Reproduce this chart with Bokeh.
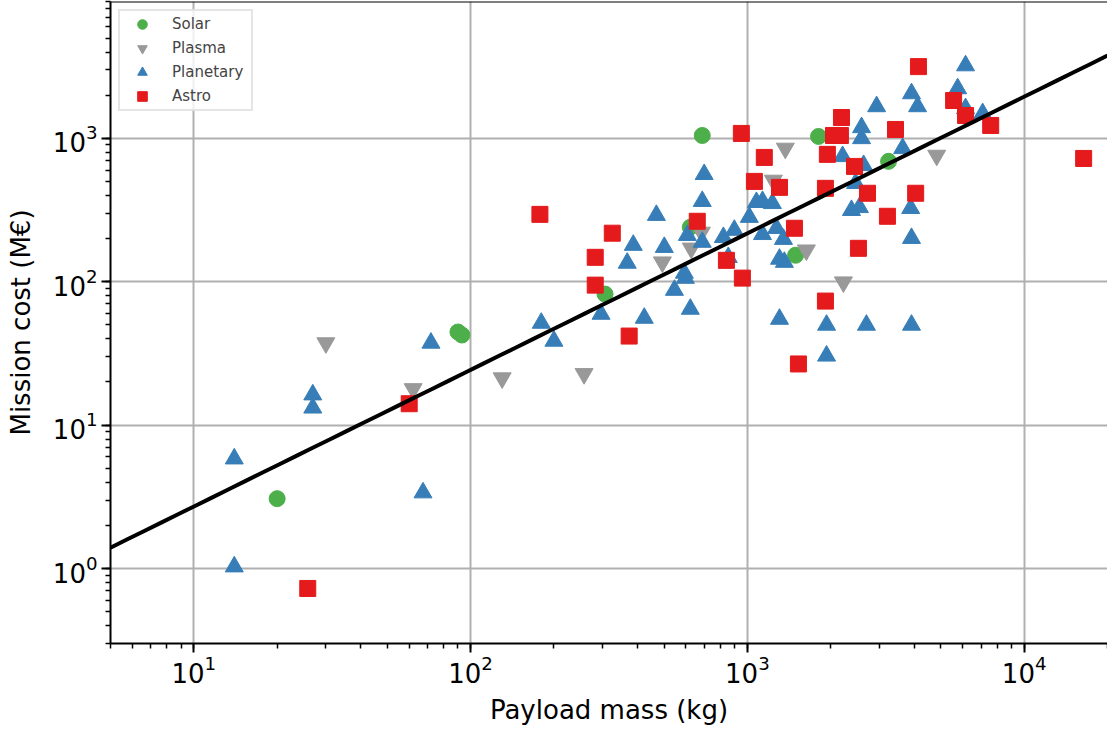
import numpy as np
from bokeh.plotting import figure
from bokeh.models import Span
from bokeh.embed import file_html
from bokeh.resources import INLINE

# ---- data ----
solar_mass = [20, 90, 93, 306, 622, 687, 1807, 1493, 3236]
solar_cost = [3.07, 44.6, 42.5, 82, 240, 1047, 1031, 153, 691]

plasma_mass = [30, 62, 130, 257, 493, 627, 682, 1241, 1371, 1633, 2223, 4830]
plasma_cost = [37.4, 17.9, 21.3, 22.8, 137, 171, 221, 509, 851, 166, 99.4, 760]

planetary_mass = [14, 14, 26.9, 26.9, 67.3, 71.9, 180, 200, 296, 368,
                  387, 424, 469, 501, 545, 592, 597, 622, 607, 687,
                  687, 698, 819, 897, 853, 1016, 1078, 1134, 1231, 1134,
                  1274, 1350, 1306, 1360, 1306, 1932, 1932, 2692, 3917, 3917,
                  3890, 2377, 2540, 2460, 2208, 2630, 2585, 2585, 2930, 3638,
                  3917, 4120, 5750, 6140, 6140, 7080]
planetary_cost = [5.83, 1.03, 16.3, 13.2, 3.38, 37.4, 51.5, 38.6, 59.5, 135,
                  180, 55.8, 291, 174, 87.4, 115, 106, 64.5, 211, 189,
                  364, 561, 204, 229, 148, 282, 358, 364, 352, 214,
                  236, 198, 144, 137, 54.9, 49.9, 30.4, 49.9, 49.9, 201,
                  325, 315, 330, 486, 748, 648, 1191, 998, 1667, 851,
                  2053, 1667, 2224, 3215, 1615, 1490]

astro_mass = [25.8, 60, 178, 282, 282, 325, 374, 659, 840, 959,
              951, 1060, 1151, 1306, 1479, 1529, 1914, 1914, 1945, 2047,
              2168, 2187, 2438, 2519, 2716, 3206, 3428, 4055, 4150, 5560,
              6140, 7570, 16400]
astro_cost = [0.726, 14.1, 295, 148, 94.7, 218, 41.8, 264, 141, 106,
              1082, 501, 736, 455, 236, 26.7, 448, 73.3, 773, 1047,
              1047, 1397, 637, 171, 414, 286, 1153, 414, 3163, 1836,
              1443, 1230, 724]

# power-law fit: cost = fit_a * mass ** fit_b
fit_a = 0.302
fit_b = 0.9525

x_min, x_max = 5, 20000
y_min, y_max = 0.3, 9000

FONT = "DejaVu Sans"

p = figure(width=1107, height=733, x_axis_type="log", y_axis_type="log",
           x_range=(x_min, x_max), y_range=(y_min, y_max),
           output_backend="svg", toolbar_location=None,
           min_border_left=110, min_border_right=0, min_border_top=1,
           min_border_bottom=90, background_fill_color="white",
           border_fill_color="white")

p.outline_line_color = None

# grid
p.xgrid.grid_line_color = "#b0b0b0"
p.ygrid.grid_line_color = "#b0b0b0"
p.xgrid.grid_line_width = 2
p.ygrid.grid_line_width = 2

for ax in (p.xaxis, p.yaxis):
    ax.axis_line_color = "black"
    ax.axis_line_width = 2
    ax.major_tick_line_color = "black"
    ax.minor_tick_line_color = "black"
    ax.major_tick_line_width = 2
    ax.minor_tick_line_width = 1.5
    ax.major_tick_out = 9
    ax.major_tick_in = 0
    ax.minor_tick_out = 5
    ax.minor_tick_in = 0
    ax.major_label_text_font = FONT
    ax.major_label_text_font_size = "26px"
    ax.major_label_text_color = "black"
    ax.axis_label_text_font = FONT
    ax.axis_label_text_font_size = "26px"
    ax.axis_label_text_font_style = "normal"
    ax.axis_label_text_color = "black"

p.xaxis.axis_label = "Payload mass (kg)"
p.yaxis.axis_label = "Mission cost (M€)"
p.xaxis.major_label_standoff = 2
p.yaxis.major_label_standoff = 4
p.xaxis.axis_label_standoff = 9
p.yaxis.axis_label_standoff = 14

# top spine
p.add_layout(Span(location=y_max, dimension="width", line_color="black", line_width=2))

p.scatter(solar_mass, solar_cost, marker="circle", size=16,
          fill_color="#4daf4a", line_color="#4daf4a", legend_label="Solar")
p.scatter(plasma_mass, plasma_cost, marker="inverted_triangle", size=18,
          fill_color="#999999", line_color="#999999", legend_label="Plasma")
p.scatter(planetary_mass, planetary_cost, marker="triangle", size=18,
          fill_color="#377eb8", line_color="#377eb8", legend_label="Planetary")
p.scatter(astro_mass, astro_cost, marker="square", size=16,
          fill_color="#e41a1c", line_color="#e41a1c", legend_label="Astro")

x_fit = np.logspace(np.log10(x_min), np.log10(x_max), 60)
y_fit = fit_a * x_fit ** fit_b
p.line(x_fit, y_fit, line_color="black", line_width=4)

lg = p.legend[0]
lg.location = "top_left"
lg.margin = 8
lg.padding = 1
lg.spacing = 0
lg.glyph_height = 24
lg.glyph_width = 42
lg.label_height = 24
lg.label_width = 78
lg.label_standoff = 9
lg.label_text_font = FONT
lg.label_text_font_size = "15px"
lg.border_line_color = "#cccccc"
lg.border_line_width = 2
lg.background_fill_alpha = 0.8

open("out.html", "w").write(file_html(p, INLINE))
